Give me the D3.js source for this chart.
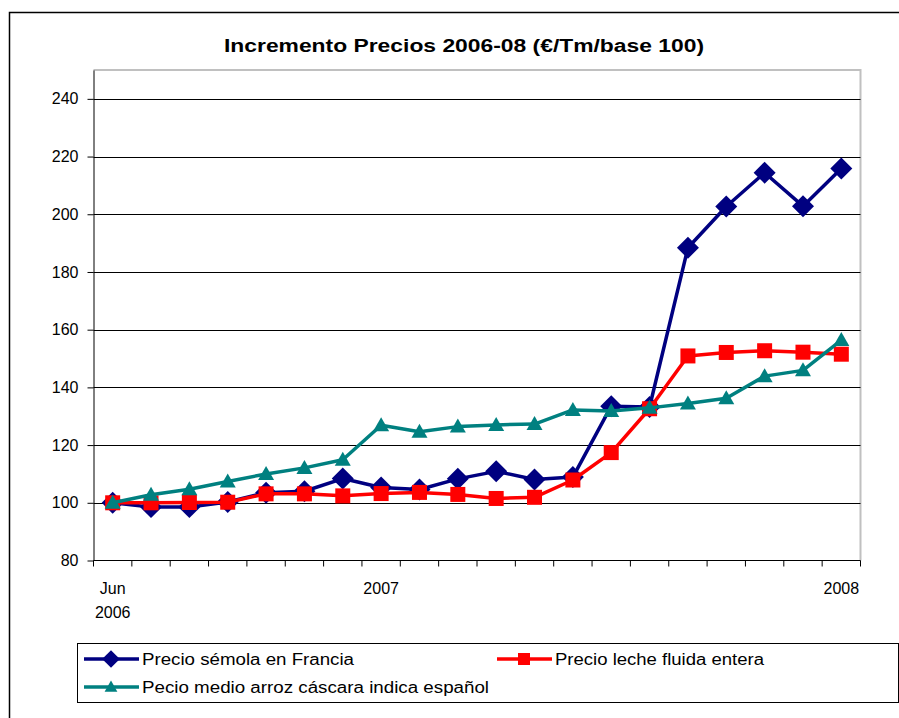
<!DOCTYPE html>
<html><head><meta charset="utf-8">
<script src="https://cdn.jsdelivr.net/npm/d3@7"></script>
<style>body{margin:0;background:#fff}svg{display:block}text{font-family:"Liberation Sans",Arial,sans-serif;fill:#000}</style>
</head><body>
<script>
const months = ["Jun 2006","Jul 2006","Ago 2006","Sep 2006","Oct 2006","Nov 2006","Dic 2006","Ene 2007","Feb 2007","Mar 2007","Abr 2007","May 2007","Jun 2007","Jul 2007","Ago 2007","Sep 2007","Oct 2007","Nov 2007","Dic 2007","Ene 2008"];
const semola = [100, 98.5, 98.5, 100.3, 103.5, 104, 108.4, 105.3, 104.6, 108.3, 110.9, 108.1, 108.9, 133.5, 133.2, 188.4, 202.7, 214.4, 202.8, 215.9];
const leche  = [100, 100, 100.1, 100.2, 103.1, 103.1, 102.4, 103.2, 103.6, 102.9, 101.5, 101.9, 107.9, 117.4, 132.6, 150.9, 152.1, 152.7, 152.2, 151.5];
const arroz  = [100, 102.8, 104.7, 107.4, 110, 112.1, 114.9, 126.9, 124.6, 126.4, 127, 127.3, 132.2, 131.8, 132.9, 134.4, 136.2, 143.9, 145.9, 156.4];
const yTicks = [80,100,120,140,160,180,200,220,240];
const xLabels = [{i:0, lines:["Jun","2006"]},{i:7, lines:["2007"]},{i:19, lines:["2008"]}];
const seriesNames = ["Precio sémola en Francia","Precio leche fluida entera","Pecio medio arroz cáscara indica español"];

const W=899,H=718;
const svg=d3.select("body").append("svg").attr("width",W).attr("height",H);
svg.append("rect").attr("x",9.5).attr("y",12.5).attr("width",1000).attr("height",1000).attr("fill","#fff").attr("stroke","#000").attr("stroke-width",1.5);

const L=93.5,R=860.5,T=70,B=560.5;
const x=d3.scaleBand().domain(months).range([L,R]);
const y=d3.scaleLinear().domain([80,250]).range([B,T]);
const cx=m=>x(m)+x.bandwidth()/2;

svg.append("text").attr("x",464).attr("y",52).attr("text-anchor","middle")
  .attr("font-size",18).attr("font-weight","bold").attr("textLength",480).attr("lengthAdjust","spacingAndGlyphs")
  .text("Incremento Precios 2006-08 (€/Tm/base 100)");

// plot border (light gray top/right)
svg.append("path").attr("d",`M${L},${T}H${R}V${B}`).attr("fill","none").attr("stroke","#c0c0c0").attr("stroke-width",2);

// gridlines
svg.append("g").selectAll("line").data(yTicks.filter(v=>v>80)).join("line")
  .attr("x1",L).attr("x2",R).attr("y1",d=>Math.round(y(d))+0.5).attr("y2",d=>Math.round(y(d))+0.5)
  .attr("stroke","#000").attr("stroke-width",1);

// y axis
const ya=svg.append("g").attr("transform",`translate(${L},0)`)
  .call(d3.axisLeft(y).tickValues(yTicks).tickSizeInner(6).tickSizeOuter(0).tickPadding(9).tickFormat(d3.format("d")));
ya.select(".domain").attr("stroke","#000");
ya.selectAll("text").attr("font-size",16).attr("font-family","Liberation Sans, Arial, sans-serif").attr("fill","#000");

// x axis with ticks on band boundaries
const xa=svg.append("g").attr("transform",`translate(0,${B})`);
xa.append("line").attr("x1",L).attr("x2",R).attr("stroke","#000");
const bounds=d3.range(months.length+1).map(i=>L+i*x.step());
xa.selectAll("line.t").data(bounds).join("line").attr("class","t")
  .attr("x1",d=>d).attr("x2",d=>d).attr("y1",0).attr("y2",6).attr("stroke","#000");
xLabels.forEach(o=>{
  o.lines.forEach((s,k)=>{
    xa.append("text").attr("x",cx(months[o.i])).attr("y",33+k*24).attr("text-anchor","middle")
      .attr("font-size",16).text(s);
  });
});

// markers
const diamond=(g,c)=>g.append("path").attr("d","M0,-11L11,0L0,11L-11,0Z").attr("fill",c);
const square=(g,c)=>g.append("rect").attr("x",-7.5).attr("y",-7.5).attr("width",15).attr("height",15).attr("fill",c);
const tri=(g,c)=>g.append("path").attr("d","M0,-8L8,6L-8,6Z").attr("fill",c);

const series=[
  {vals:semola,color:"#000080",mk:diamond},
  {vals:leche,color:"#ff0000",mk:square},
  {vals:arroz,color:"#008080",mk:tri}
];
const line=d3.line().x((d,i)=>cx(months[i])).y(d=>y(d));
series.forEach(s=>{
  const g=svg.append("g");
  g.append("path").datum(s.vals).attr("d",line).attr("fill","none").attr("stroke",s.color).attr("stroke-width",3.5).attr("stroke-linejoin","round");
  g.selectAll("g").data(s.vals).join("g").attr("transform",(d,i)=>`translate(${cx(months[i])},${y(d)})`)
    .each(function(){s.mk(d3.select(this),s.color);});
});

// legend
svg.append("rect").attr("x",77.5).attr("y",643.5).attr("width",821).attr("height",59).attr("fill","#fff").attr("stroke","#000");
const legItems=[
  {x:84, y:659, w:212, s:series[0], name:seriesNames[0]},
  {x:497, y:659, w:209, s:series[1], name:seriesNames[1]},
  {x:84, y:687, w:347, s:series[2], name:seriesNames[2]}
];
legItems.forEach(it=>{
  const g=svg.append("g").attr("transform",`translate(${it.x},${it.y})`);
  g.append("line").attr("x1",0).attr("x2",55).attr("stroke",it.s.color).attr("stroke-width",3.5);
  const mg=g.append("g").attr("transform","translate(27,0) scale(0.8)");
  it.s.mk(mg,it.s.color);
  g.append("text").attr("x",58).attr("y",6).attr("font-size",16).attr("textLength",it.w).attr("lengthAdjust","spacingAndGlyphs").text(it.name);
});
</script>
</body></html>
